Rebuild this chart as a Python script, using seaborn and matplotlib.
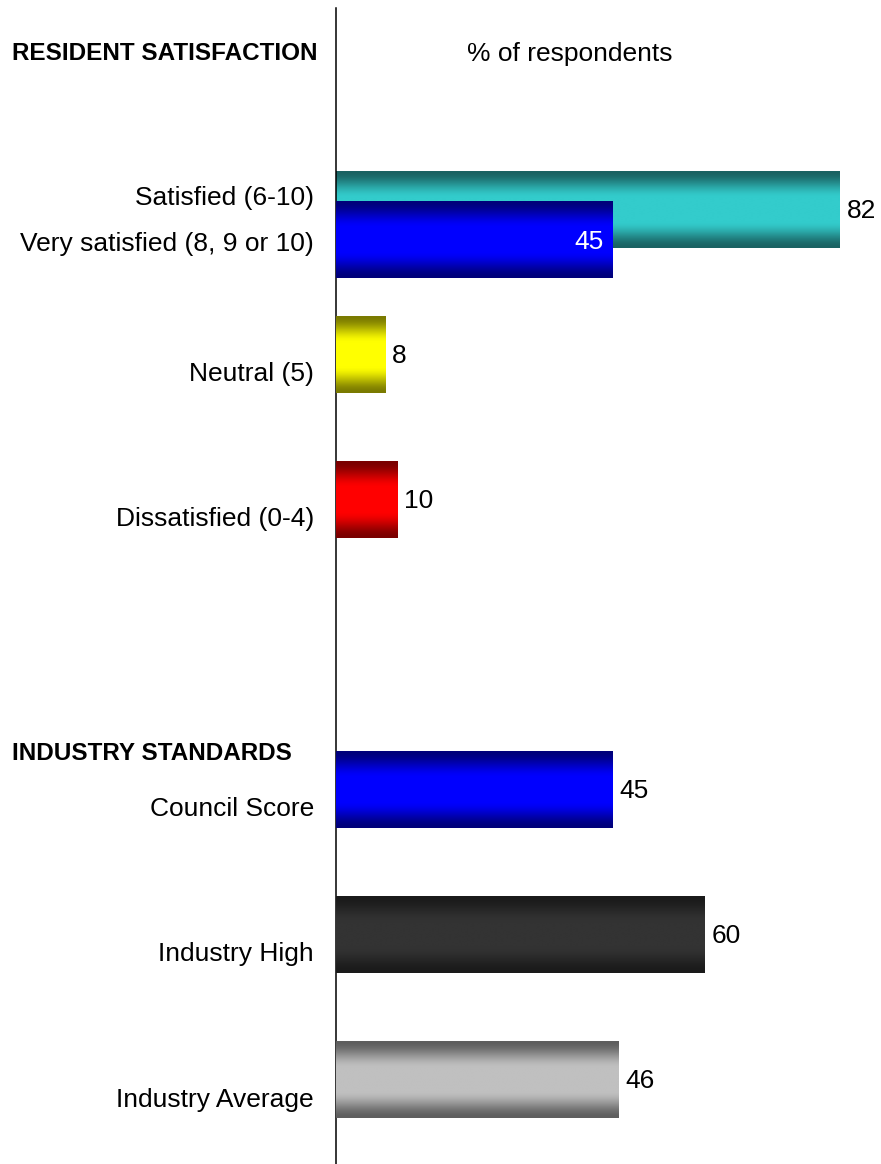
import numpy as np
import pandas as pd
import matplotlib
matplotlib.use("Agg")
import matplotlib.pyplot as plt
from matplotlib.colors import LinearSegmentedColormap
import seaborn as sns

# ---- data -------------------------------------------------------------
categories = ["Satisfied (6-10)", "Neutral (5)", "Dissatisfied (0-4)",
              "Council Score", "Industry High", "Industry Average"]
values = [82, 8, 10, 45, 60, 46]
slots = [0, 1, 2, 4, 5, 6]          # row 3 is the gap between the two sections

overlay_category = "Very satisfied (8, 9 or 10)"
overlay_value = 45

section_titles = ["RESIDENT SATISFACTION", "INDUSTRY STANDARDS"]
axis_title = "% of respondents"

# ---- styling ----------------------------------------------------------
# (bright centre, dark edge) of each bar's vertical shading
shades = {
    "Satisfied (6-10)": ("#33cccc", "#1a6262"),
    "Very satisfied (8, 9 or 10)": ("#0000ff", "#00007a"),
    "Neutral (5)": ("#ffff00", "#7a7a00"),
    "Dissatisfied (0-4)": ("#ff0000", "#7a0000"),
    "Council Score": ("#0000ff", "#00007a"),
    "Industry High": ("#333333", "#1a1a1a"),
    "Industry Average": ("#c0c0c0", "#5e5e5e"),
}
overlay_shift = 0.207                # overlay bar sits just below the first row
bar_height = 0.53
W, H, DPI = 881, 1164, 100
AX_LEFT_PX, AX_TOP_PX = 336, 8
PX_PER_UNIT = 6.146
ROW0_PX, ROW_STEP_PX = 209.5, 145.0
FS = 19          # pt
FS_HEAD = 17.5   # pt
# label baseline offsets below each bar centre, in pixels
label_drop = {"Satisfied (6-10)": -4, overlay_category: 11}
default_drop = 27

sns.set_theme(style="white")
plt.rcParams["font.family"] = ["Liberation Sans", "DejaVu Sans"]
plt.rcParams["text.color"] = "black"

fig = plt.figure(figsize=(W / DPI, H / DPI), dpi=DPI)
ax = fig.add_axes([AX_LEFT_PX / W, 0, 1 - AX_LEFT_PX / W, 1 - AX_TOP_PX / H])

df = pd.DataFrame({"category": categories, "value": values, "slot": slots})
df_over = pd.DataFrame({"category": [overlay_category],
                        "value": [overlay_value],
                        "slot": [slots[0] + overlay_shift]})

sns.barplot(data=df, x="value", y="slot", hue="category", hue_order=categories,
            palette={c: shades[c][0] for c in categories}, orient="y",
            native_scale=True, width=bar_height, dodge=False, legend=False,
            errorbar=None, linewidth=0, ax=ax)
n_main = len(ax.patches)
sns.barplot(data=df_over, x="value", y="slot", color=shades[overlay_category][0],
            orient="y", native_scale=True, width=bar_height, errorbar=None,
            linewidth=0, ax=ax)


def shade_bar(patch, centre, edge, z):
    x0, y0 = patch.get_x(), patch.get_y()
    w, h = patch.get_width(), patch.get_height()
    t = np.linspace(0, 1, 256)
    d = np.clip((np.abs(2 * t - 1) - 0.3) / 0.7, 0, 1)
    f = 1 - (3 * d ** 2 - 2 * d ** 3)
    cmap = LinearSegmentedColormap.from_list("bar", [edge, centre])
    ax.imshow(f[:, None], cmap=cmap, vmin=0, vmax=1, aspect="auto",
              extent=(x0, x0 + w, y0 + h, y0), interpolation="bilinear",
              zorder=z)


for i, patch in enumerate(ax.patches):
    if i < n_main:
        yc = patch.get_y() + patch.get_height() / 2
        cat = categories[int(np.argmin([abs(yc - s) for s in slots]))]
    else:
        cat = overlay_category
    shade_bar(patch, shades[cat][0], shades[cat][1], z=2 + i)

ylim_top = (AX_TOP_PX - ROW0_PX) / ROW_STEP_PX
ylim_bottom = (H - ROW0_PX) / ROW_STEP_PX
ax.set_xlim(0, (W - AX_LEFT_PX) / PX_PER_UNIT)
ax.set_ylim(ylim_bottom, ylim_top)

# value labels
pt = 72 / DPI
for k, cont in enumerate(ax.containers):
    inside = k == len(ax.containers) - 1
    anns = ax.bar_label(cont, fmt="{:.0f}", padding=7 * pt, fontsize=FS,
                        color="white" if inside else "black")
    for a in anns:
        a.set_va("baseline")
        a.set_zorder(50)
        if inside:
            a.set_ha("right")
            a.xyann = (-9 * pt, -9 * pt)
        else:
            a.xyann = (7 * pt, -9 * pt)

# category labels to the left of the axis line
for cat, s in list(zip(categories, slots)) + [(overlay_category, slots[0] + overlay_shift)]:
    drop = label_drop.get(cat, default_drop)
    ax.annotate(cat, xy=(0, s), xycoords=ax.get_yaxis_transform(),
                xytext=(-22, -drop), textcoords="offset pixels",
                ha="right", va="baseline", fontsize=FS, color="black",
                annotation_clip=False)

# headings
fig.text(12 / W, 1 - 60.5 / H, section_titles[0], fontsize=FS_HEAD,
         fontweight="bold", ha="left", va="baseline", color="black")
fig.text(12 / W, 1 - 760.5 / H, section_titles[1], fontsize=FS_HEAD,
         fontweight="bold", ha="left", va="baseline", color="black")
fig.text(570 / W, 1 - 61.5 / H, axis_title, fontsize=FS,
         ha="center", va="baseline", color="black")

ax.set_xticks([])
ax.set_yticks([])
ax.set_xlabel("")
ax.set_ylabel("")
for side in ["top", "right", "bottom"]:
    ax.spines[side].set_visible(False)
ax.spines["left"].set_color("black")
ax.spines["left"].set_linewidth(1.1)
ax.patch.set_alpha(0)

fig.savefig("out.png", dpi=DPI)
